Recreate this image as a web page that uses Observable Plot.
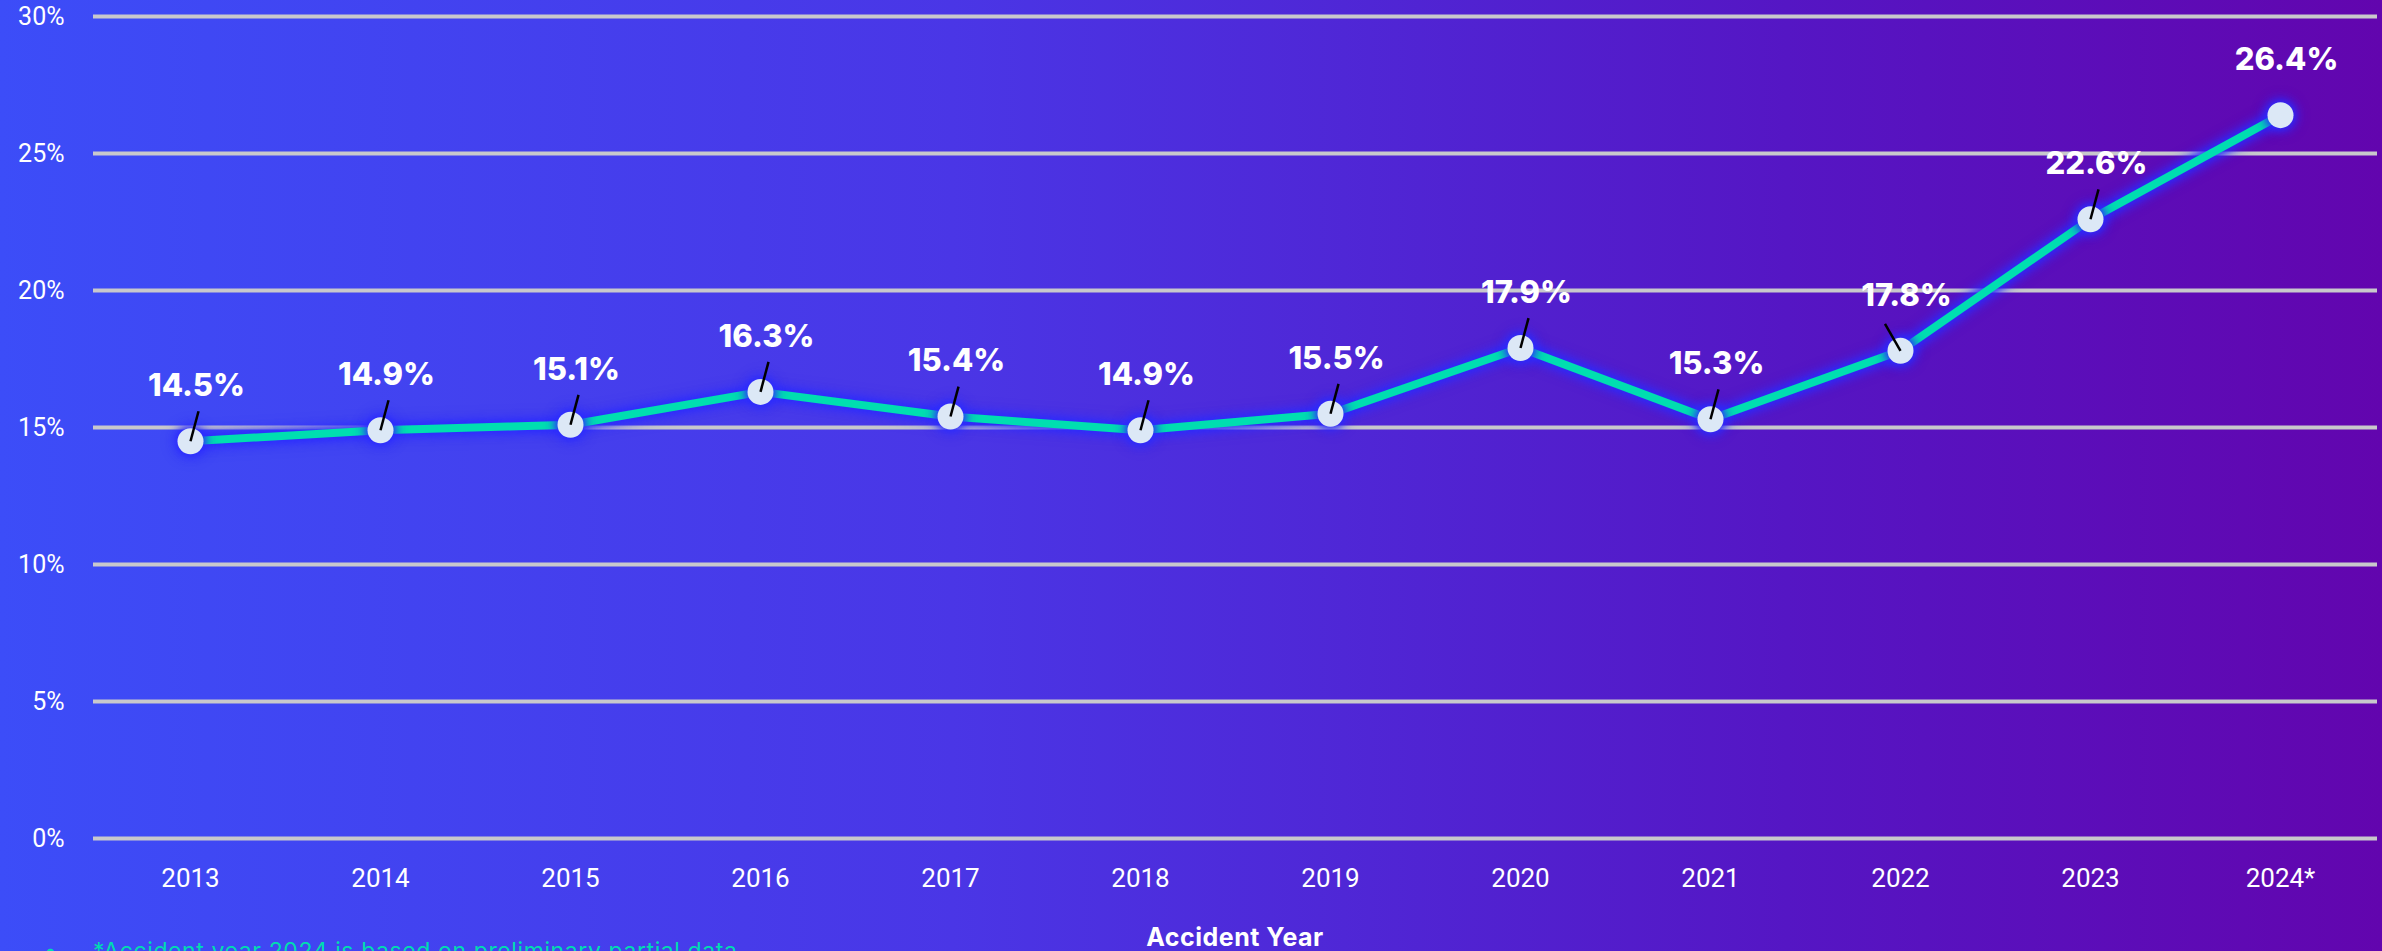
<!DOCTYPE html>
<html>
<head>
<meta charset="utf-8">
<script src="https://cdn.jsdelivr.net/npm/d3@7"></script>
<script src="https://cdn.jsdelivr.net/npm/@observablehq/plot@0.6"></script>
<style>
  html, body { margin: 0; padding: 0; }
  body {
    width: 2382px; height: 951px; overflow: hidden; position: relative;
    background: linear-gradient(90deg, #3C4DF8 0%, #4A36E6 40%, #5516C4 75%, #6205AE 100%);
    font-family: Inter, Roboto, sans-serif;
  }
  #chart { position: absolute; left: 0; top: 0; }
  .glow { filter: drop-shadow(0 0 6px #2a2aff) drop-shadow(0 0 4px #2a2aff); }
  #xtitle {
    position: absolute; left: 93px; width: 2284px; top: 925px;
    text-align: center; color: #fff; font-weight: 700; font-size: 25px;
    line-height: 25px; letter-spacing: 0.5px; font-family: Inter, sans-serif;
  }
  #note {
    position: absolute; left: 44px; top: 939px; color: #00DDB0;
    font-size: 23px; line-height: 25px; letter-spacing: 0.6px; font-family: Inter, sans-serif;
    white-space: nowrap;
  }
  #note .b { display: inline-block; width: 49px; }
</style>
</head>
<body>
<div id="chart"></div>
<div id="xtitle">Accident Year</div>
<div id="note"><span class="b">•</span>*Accident year 2024 is based on preliminary partial data</div>
<script>
const years = ["2013","2014","2015","2016","2017","2018","2019","2020","2021","2022","2023","2024*"];
const values = [14.5, 14.9, 15.1, 16.3, 15.4, 14.9, 15.5, 17.9, 15.3, 17.8, 22.6, 26.4];
const yTicks = [0, 5, 10, 15, 20, 25, 30];

const data = years.map((year, i) => ({year, value: values[i]}));
const leaderData = data.filter(d => d.year !== "2024*");

const leader = {
  draw(context) { context.moveTo(0, 0); context.lineTo(0, -31); }
};

const chart = Plot.plot({
  width: 2382,
  height: 905,
  marginTop: 16,
  marginBottom: 67,
  marginLeft: 93,
  marginRight: 5,
  style: {background: "transparent", color: "#fff", fontFamily: "Roboto, sans-serif", fontSize: "25px"},
  x: {type: "point", domain: years, padding: 0.48, label: null},
  y: {domain: [0, 30], label: null},
  marks: [
    Plot.ruleY(yTicks, {stroke: "#C8C8CC", strokeWidth: 4}),
    Plot.axisY(yTicks, {tickSize: 0, tickPadding: 29, tickFormat: d => d + "%", fontSize: 25, fill: "#fff", label: null}),
    Plot.axisX({tickSize: 0, tickPadding: 30, fontSize: 26, fill: "#fff", label: null}),
    Plot.line(data, {x: "year", y: "value", stroke: "#00DEB0", strokeWidth: 8, className: "glow"}),
    Plot.dot(data, {x: "year", y: "value", r: 13, fill: "#DCE8F6", stroke: "none", className: "glow"}),
    Plot.dot(leaderData, {x: "year", y: "value", symbol: leader, r: 5, stroke: "#000", strokeWidth: 2.5, fill: "none",
      rotate: d => d.year === "2022" ? -30 : 15}),
    Plot.text(data, {x: "year", y: "value", text: d => d.value.toFixed(1) + "%", dy: -55, dx: 6,
      fill: "#fff", fontWeight: 800, fontSize: 31, fontFamily: "Inter, sans-serif", style: "letter-spacing:1.8px"})
  ]
});
document.getElementById("chart").appendChild(chart);
</script>
</body>
</html>
